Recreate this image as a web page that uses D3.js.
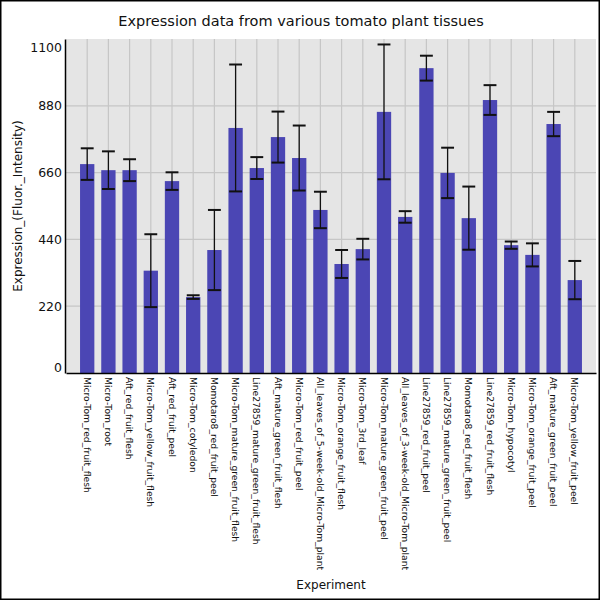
<!DOCTYPE html>
<html>
<head>
  <style>
    body { margin: 0; background: #fff; }
    svg { display: block; font-family: "DejaVu Sans", sans-serif; }
  </style>
</head>
<body>
  <svg width="600" height="600"></svg>
  <script src="https://d3js.org/d3.v7.min.js"></script>
  <script>
    // tissues, in plotted order
    const experiments = [
      "Micro-Tom_red_fruit_flesh", "Micro-Tom_root", "Aft_red_fruit_flesh",
      "Micro-Tom_yellow_fruit_flesh", "Aft_red_fruit_peel", "Micro-Tom_cotyledon",
      "Momotaro8_red_fruit_peel", "Micro-Tom_mature_green_fruit_flesh",
      "Line27859_mature_green_fruit_flesh", "Aft_mature_green_fruit_flesh",
      "Micro-Tom_red_fruit_peel", "All_leaves_of_5-week-old_Micro-Tom_plant",
      "Micro-Tom_orange_fruit_flesh", "Micro-Tom_3rd_leaf",
      "Micro-Tom_mature_green_fruit_peel", "All_leaves_of_3-week-old_Micro-Tom_plant",
      "Line27859_red_fruit_peel", "Line27859_mature_green_fruit_peel",
      "Momotaro8_red_fruit_flesh", "Line27859_red_fruit_flesh",
      "Micro-Tom_hypocotyl", "Micro-Tom_orange_fruit_peel",
      "Aft_mature_green_fruit_peel", "Micro-Tom_yellow_fruit_peel"
    ];
    const expression = [688, 668, 668, 337, 632, 250, 405, 807, 675, 777, 708, 537,
                        359, 408, 860, 514, 1004, 659, 510, 899, 421, 389, 820, 306];
    const errors = [52, 62, 36, 120, 29, 6, 132, 209, 36, 84, 107, 60,
                    46, 34, 222, 19, 41, 83, 104, 49, 12, 38, 40, 63];
    const yTicks = [0, 220, 440, 660, 880, 1100];

    const data = experiments.map((name, i) => ({ name, value: expression[i], err: errors[i] }));

    const width = 600, height = 600;
    const margin = { top: 39, right: 4, bottom: 227, left: 66 };

    const svg = d3.select("svg").attr("viewBox", [0, 0, width, height]);

    const x = d3.scaleBand()
      .domain(experiments)
      .range([margin.left, width - margin.right])
      .paddingInner(0.325)
      .paddingOuter(0.6625);

    const y = d3.scaleLinear()
      .domain([0, 1100])
      .range([height - margin.bottom, margin.top]);

    // plot background
    svg.append("rect")
      .attr("x", margin.left)
      .attr("y", margin.top)
      .attr("width", width - margin.left - margin.right)
      .attr("height", height - margin.top - margin.bottom)
      .attr("fill", "#e5e5e5");

    // grid
    const grid = svg.append("g").attr("stroke", "#c6c6c6").attr("stroke-width", 1.2);
    grid.selectAll(".gy")
      .data(yTicks.slice(1, -1))
      .join("line")
      .attr("x1", margin.left).attr("x2", width - margin.right)
      .attr("y1", d => y(d)).attr("y2", d => y(d));
    grid.selectAll(".gx")
      .data(experiments)
      .join("line")
      .attr("x1", d => x(d) + x.bandwidth() / 2).attr("x2", d => x(d) + x.bandwidth() / 2)
      .attr("y1", margin.top).attr("y2", height - margin.bottom);

    // bars
    svg.append("g")
      .selectAll("rect")
      .data(data)
      .join("rect")
      .attr("x", d => x(d.name))
      .attr("y", d => y(d.value))
      .attr("width", x.bandwidth())
      .attr("height", d => y(0) - y(d.value))
      .attr("fill", "#4b46b4");

    // error bars
    const eb = svg.append("g").attr("stroke", "#111");
    const capW = x.bandwidth() * 0.9;
    eb.selectAll(".v")
      .data(data)
      .join("line")
      .attr("x1", d => x(d.name) + x.bandwidth() / 2)
      .attr("x2", d => x(d.name) + x.bandwidth() / 2)
      .attr("y1", d => y(d.value + d.err))
      .attr("y2", d => y(d.value - d.err))
      .attr("stroke-width", 1.3);
    eb.selectAll(".ct")
      .data(data.flatMap(d => [{ d, v: d.value + d.err }, { d, v: d.value - d.err }]))
      .join("line")
      .attr("x1", c => x(c.d.name) + x.bandwidth() / 2 - capW / 2)
      .attr("x2", c => x(c.d.name) + x.bandwidth() / 2 + capW / 2)
      .attr("y1", c => y(c.v))
      .attr("y2", c => y(c.v))
      .attr("stroke-width", 2);

    // y axis
    const yAxis = svg.append("g")
      .attr("transform", `translate(${margin.left - 1},0)`)
      .call(d3.axisLeft(y).tickValues(yTicks).tickFormat(d3.format("d")).tickSize(0).tickPadding(3));
    yAxis.select(".domain").attr("stroke", "#000").attr("stroke-width", 1.5);
    yAxis.selectAll("text")
      .attr("font-family", "DejaVu Sans, sans-serif")
      .attr("font-size", 12.5)
      .attr("fill", "#111")
      .attr("dy", d => d === 0 ? "-0.15em" : d === 1100 ? "1em" : "0.32em");

    // x axis
    const xAxis = svg.append("g")
      .attr("transform", `translate(0,${height - margin.bottom})`)
      .call(d3.axisBottom(x).tickSize(0).tickPadding(0));
    xAxis.select(".domain").attr("stroke", "#000").attr("stroke-width", 1.5);
    xAxis.selectAll("text")
      .attr("font-family", "DejaVu Sans, sans-serif")
      .attr("font-size", 9.2)
      .attr("fill", "#111")
      .attr("text-anchor", "start")
      .attr("dominant-baseline", "central")
      .attr("dy", null)
      .attr("y", 0)
      .attr("transform", "translate(0,4) rotate(90)");

    // titles
    svg.append("text")
      .attr("x", 301)
      .attr("y", 26)
      .attr("text-anchor", "middle")
      .attr("font-size", 14.5)
      .attr("fill", "#111")
      .text("Expression data from various tomato plant tissues");

    svg.append("text")
      .attr("transform", `translate(22,${(margin.top + height - margin.bottom) / 2}) rotate(-90)`)
      .attr("text-anchor", "middle")
      .attr("font-size", 12)
      .attr("fill", "#111")
      .text("Expression_(Fluor._Intensity)");

    svg.append("text")
      .attr("x", (margin.left + width - margin.right) / 2)
      .attr("y", 589)
      .attr("text-anchor", "middle")
      .attr("font-size", 12)
      .attr("fill", "#111")
      .text("Experiment");

    // outer frame
    svg.append("rect")
      .attr("x", 0.75).attr("y", 0.75)
      .attr("width", width - 1.5).attr("height", height - 1.5)
      .attr("fill", "none")
      .attr("stroke", "#000")
      .attr("stroke-width", 1.5);
  </script>
</body>
</html>
